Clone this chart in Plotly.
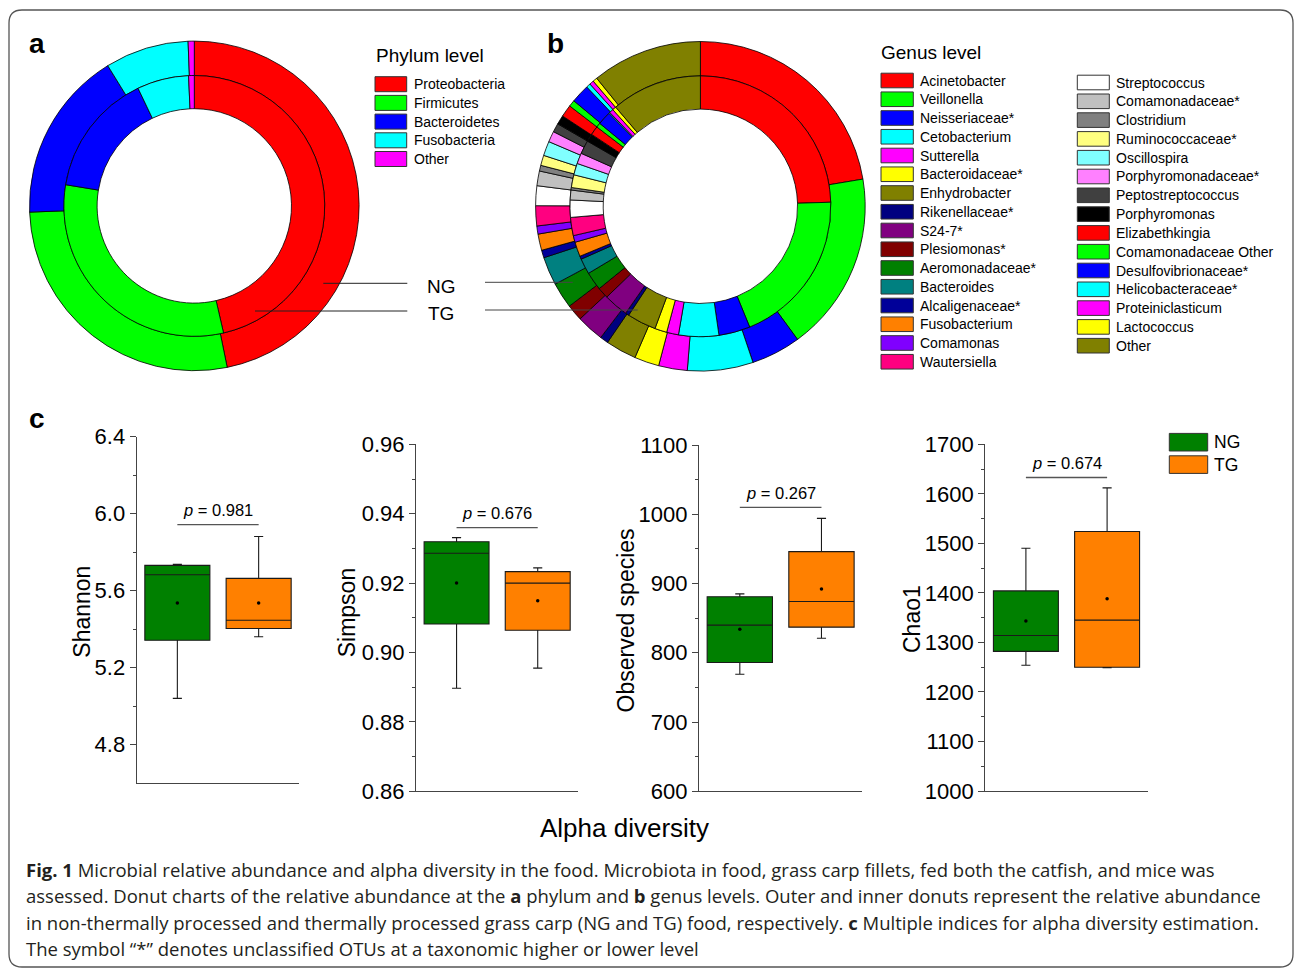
import plotly.graph_objects as go

W, H = 1296, 973

# ---------------- data ----------------
phylum_labels = ["Proteobacteria", "Firmicutes", "Bacteroidetes", "Fusobacteria", "Other"]
phylum_colors = ["#FF0000", "#00FF00", "#0000FF", "#00FFFF", "#FF00FF"]
phylum_ng = [46.8, 27.6, 16.8, 8.2, 0.6]
phylum_tg = [46.4, 31.2, 15.3, 6.4, 0.7]

genus_labels = ["Acinetobacter", "Veillonella", "Neisseriaceae*", "Cetobacterium", "Sutterella",
                "Bacteroidaceae*", "Enhydrobacter", "Rikenellaceae*", "S24-7*", "Plesiomonas*",
                "Aeromonadaceae*", "Bacteroides", "Alcaligenaceae*", "Fusobacterium", "Comamonas",
                "Wautersiella", "Streptococcus", "Comamonadaceae*", "Clostridium", "Ruminococcaceae*",
                "Oscillospira", "Porphyromonadaceae*", "Peptostreptococcus", "Porphyromonas",
                "Elizabethkingia", "Comamonadaceae Other", "Desulfovibrionaceae*", "Helicobacteraceae*",
                "Proteiniclasticum", "Lactococcus", "Other"]
genus_colors = ["#FF0000", "#00FF00", "#0000FF", "#00FFFF", "#FF00FF", "#FFFF00", "#808000", "#000080",
                "#800080", "#800000", "#008000", "#008080", "#000099", "#FF8000", "#8000FF", "#FF0080",
                "#FFFFFF", "#C0C0C0", "#808080", "#FFFF80", "#80FFFF", "#FF80FF", "#404040", "#000000",
                "#FF0000", "#00FF00", "#0000FF", "#00FFFF", "#FF00FF", "#FFFF00", "#808000"]
genus_ng = [22.36, 17.61, 4.86, 6.44, 2.81, 2.42, 3.03, 0.81, 2.69, 1.61, 2.53, 2.78, 0.75, 1.60, 0.79,
            1.97, 1.94, 1.44, 0.56, 1.00, 1.42, 1.06, 0.86, 0.89, 1.19, 0.64, 1.83, 0.42, 0.42, 0.44, 10.83]
genus_tg = [24.50, 19.33, 3.89, 4.97, 1.47, 1.50, 3.61, 0.44, 3.03, 1.39, 2.28, 1.94, 0.39, 1.81, 0.83,
            2.25, 2.14, 1.22, 0.31, 1.58, 1.44, 1.33, 1.67, 0.97, 1.11, 0.56, 1.67, 0.14, 0.50, 0.47, 11.25]

groups = ["NG", "TG"]
group_colors = ["#008000", "#FF8000"]

shannon = {"lower": [5.041, 5.361], "q1": [5.343, 5.404], "median": [5.683, 5.447],
           "q3": [5.732, 5.664], "upper": [5.737, 5.882], "mean": [5.537, 5.537]}
simpson = {"lower": [0.8897, 0.8955], "q1": [0.9082, 0.9064], "median": [0.9286, 0.9200],
           "q3": [0.9319, 0.9233], "upper": [0.9331, 0.9244], "mean": [0.9200, 0.9149]}
observed = {"lower": [769, 821], "q1": [786, 837], "median": [840, 874],
            "q3": [881, 946], "upper": [885, 994], "mean": [834, 892]}
chao1 = {"lower": [1254, 1249], "q1": [1282, 1250], "median": [1314, 1345],
         "q3": [1404, 1524], "upper": [1490, 1612], "mean": [1343, 1388]}

index_names = ["Shannon", "Simpson", "Observed species", "Chao1"]
p_values = ["0.981", "0.676", "0.267", "0.674"]
p_heights = [5.943, 0.936, 1010, 1633]

shannon_ticks = [4.8, 5.2, 5.6, 6.0, 6.4]
simpson_ticks = [0.86, 0.88, 0.90, 0.92, 0.94, 0.96]
observed_ticks = [600, 700, 800, 900, 1000, 1100]
chao1_ticks = [1000, 1100, 1200, 1300, 1400, 1500, 1600, 1700]
shannon_minor = [5.0, 5.4, 5.8, 6.2]
simpson_minor = [0.87, 0.89, 0.91, 0.93, 0.95]
observed_minor = [650, 750, 850, 950, 1050]
chao1_minor = [1050, 1150, 1250, 1350, 1450, 1550, 1650]

caption_lines = [
    "<b>Fig. 1</b> Microbial relative abundance and alpha diversity in the food. Microbiota in food, grass carp fillets, fed both the catfish, and mice was",
    "assessed. Donut charts of the relative abundance at the <b>a</b> phylum and <b>b</b> genus levels. Outer and inner donuts represent the relative abundance",
    "in non-thermally processed and thermally processed grass carp (NG and TG) food, respectively. <b>c</b> Multiple indices for alpha diversity estimation.",
    "The symbol \u201c*\u201d denotes unclassified OTUs at a taxonomic higher or lower level",
]

# ---------------- helpers ----------------
FONT = "Liberation Sans, Arial, sans-serif"


def PX(x):
    return x / W


def PY(y):
    return 1 - y / H


fig = go.Figure()
shapes = []
annotations = []


def ring(values, labels, colors, cx, cy, r_out, r_in):
    return go.Pie(values=values, labels=labels, sort=False, direction="clockwise", rotation=0,
                  hole=r_in / r_out, textinfo="none", showlegend=False,
                  marker=dict(colors=colors, line=dict(color="black", width=0.8)),
                  domain=dict(x=[PX(cx - r_out), PX(cx + r_out)], y=[PY(cy + r_out), PY(cy - r_out)]))


R_OUT, R_MID, R_IN = 164.8, 130.4, 97.2
fig.add_trace(ring(phylum_ng, phylum_labels, phylum_colors, 194.3, 205.9, R_OUT, R_MID))
fig.add_trace(ring(phylum_tg, phylum_labels, phylum_colors, 194.3, 205.9, R_MID, R_IN))
fig.add_trace(ring(genus_ng, genus_labels, genus_colors, 700.4, 206.3, R_OUT, R_MID))
fig.add_trace(ring(genus_tg, genus_labels, genus_colors, 700.4, 206.3, R_MID, R_IN))


def text(x, y, s, size, anchor="left", color="black", angle=0, family=FONT):
    annotations.append(dict(x=PX(x), y=PY(y), xref="paper", yref="paper", text=s, showarrow=False,
                            xanchor=anchor, yanchor="middle", textangle=angle,
                            font=dict(family=family, size=size, color=color)))


def rect(x0, y0, x1, y1, fill, line="#333333"):
    shapes.append(dict(type="rect", xref="paper", yref="paper", x0=PX(x0), x1=PX(x1),
                       y0=PY(y1), y1=PY(y0), fillcolor=fill, line=dict(color=line, width=1)))


def hline(x0, x1, y, color="#222222"):
    shapes.append(dict(type="line", xref="paper", yref="paper", x0=PX(x0), x1=PX(x1),
                       y0=PY(y), y1=PY(y), line=dict(color=color, width=1)))


# panel letters
text(27, 44, "<b>a</b>", 28)
text(545, 44, "<b>b</b>", 28)
text(27, 418, "<b>c</b>", 28)

# NG / TG pointers
text(441, 286, "NG", 19, anchor="center")
text(441, 314, "TG", 19, anchor="center")
hline(323.3, 407.3, 283.3)
hline(255, 407.3, 311)
hline(485, 572.7, 282.3, "#444444")
hline(485, 637.7, 310, "#444444")

# phylum legend
text(374, 56, "Phylum level", 19)
for i, (lab, col) in enumerate(zip(phylum_labels, phylum_colors)):
    cy = 84.2 + i * 18.7
    rect(375, cy - 7.5, 406.7, cy + 7.5, col)
    text(411.5, cy, lab, 14)

# genus legend (two columns)
text(879, 52.3, "Genus level", 19)
for i, (lab, col) in enumerate(zip(genus_labels, genus_colors)):
    if i < 16:
        cy = 80.5 + i * 18.75
        x0, x1, tx = 881, 913.3, 918
    else:
        cy = 82.5 + (i - 16) * 18.8
        x0, x1, tx = 1077.3, 1109.3, 1114
    rect(x0, cy - 7.3, x1, cy + 7.3, col)
    text(tx, cy, lab, 14)

# ---------------- box plots ----------------
stats_list = [shannon, simpson, observed, chao1]
ticks_list = [shannon_ticks, simpson_ticks, observed_ticks, chao1_ticks]
minor_list = [shannon_minor, simpson_minor, observed_minor, chao1_minor]
fmt_list = ["{:.1f}", "{:.2f}", "{:.0f}", "{:.0f}"]
geom = [  # x0, x1, y_top, y_bottom (px), y range
    (136.7, 299.3, 436.7, 783.3, [4.6, 6.4]),
    (416.0, 578.3, 444.3, 791.3, [0.86, 0.96]),
    (699.0, 862.3, 445.0, 791.3, [600, 1100]),
    (985.3, 1147.7, 444.3, 791.0, [1000, 1700]),
]
title_pos = [(82, 611.7), (347, 613.3), (625.5, 621), (912, 619)]
AXC = "#444444"

layout_axes = {}
for k in range(4):
    n = k + 1
    xa, ya = ("x" if n == 1 else f"x{n}"), ("y" if n == 1 else f"y{n}")
    x0, x1, yt, yb, yr = geom[k]
    st = stats_list[k]
    for g in range(2):
        fig.add_trace(go.Box(x=[g], q1=[st["q1"][g]], median=[st["median"][g]], q3=[st["q3"][g]],
                             lowerfence=[st["lower"][g]], upperfence=[st["upper"][g]],
                             width=0.8, whiskerwidth=0.14, fillcolor=group_colors[g],
                             line=dict(color="#1a1a1a", width=1.1), boxpoints=False,
                             name=groups[g], showlegend=False, xaxis=xa, yaxis=ya))
    fig.add_trace(go.Scatter(x=[0, 1], y=st["mean"], mode="markers",
                             marker=dict(color="black", size=3.5), showlegend=False,
                             xaxis=xa, yaxis=ya, hoverinfo="y"))
    fig.add_trace(go.Scatter(x=[0, 1], y=[p_heights[k], p_heights[k]], mode="lines",
                             line=dict(color="#555555", width=1.3), showlegend=False,
                             xaxis=xa, yaxis=ya, hoverinfo="skip"))
    annotations.append(dict(x=0.5, y=p_heights[k], xref=xa, yref=ya, showarrow=False,
                            text=f"<i>p</i> = {p_values[k]}", yanchor="bottom", yshift=3.5,
                            font=dict(family=FONT, size=16.5, color="black")))
    layout_axes["xaxis" if n == 1 else f"xaxis{n}"] = dict(
        domain=[PX(x0), PX(x1)], anchor=ya, range=[-0.5, 1.5], showline=True, linecolor=AXC,
        linewidth=1.2, ticks="", showticklabels=False, showgrid=False, zeroline=False,
        fixedrange=True, automargin=False)
    layout_axes["yaxis" if n == 1 else f"yaxis{n}"] = dict(
        domain=[PY(yb), PY(yt)], anchor=xa, range=yr, showline=True, linecolor=AXC, linewidth=1.2,
        tickmode="array", tickvals=ticks_list[k], ticktext=[fmt_list[k].format(v) for v in ticks_list[k]],
        ticks="outside", ticklen=6, tickwidth=1.2, tickcolor=AXC,
        minor=dict(tickmode="array", tickvals=minor_list[k], ticks="outside", ticklen=3,
                   tickcolor=AXC, tickwidth=1.2, showgrid=False),
        tickfont=dict(family=FONT, size=22, color="black"),
        showgrid=False, zeroline=False, fixedrange=True, automargin=False)
    tx, ty = title_pos[k]
    text(tx, ty, index_names[k], 23, anchor="center", angle=-90)

text(624, 828, "Alpha diversity", 26, anchor="center")

# NG / TG legend for box plots
for g in range(2):
    cy = 442.2 + g * 22.4
    rect(1169.3, cy - 8.8, 1207.7, cy + 8.8, group_colors[g], line="#333333")
    text(1212, cy, groups[g], 17.5)

# caption
for i, line in enumerate(caption_lines):
    text(24, 869 + i * 26.5, line, 18.5, color="#231f20", family="Open Sans, sans-serif")

# rounded outer frame
fx0, fy0, fx1, fy1, rr = 9, 10, 1293, 967, 13
pts = (f"M {PX(fx0 + rr)},{PY(fy0)} L {PX(fx1 - rr)},{PY(fy0)} Q {PX(fx1)},{PY(fy0)} {PX(fx1)},{PY(fy0 + rr)} "
       f"L {PX(fx1)},{PY(fy1 - rr)} Q {PX(fx1)},{PY(fy1)} {PX(fx1 - rr)},{PY(fy1)} "
       f"L {PX(fx0 + rr)},{PY(fy1)} Q {PX(fx0)},{PY(fy1)} {PX(fx0)},{PY(fy1 - rr)} "
       f"L {PX(fx0)},{PY(fy0 + rr)} Q {PX(fx0)},{PY(fy0)} {PX(fx0 + rr)},{PY(fy0)} Z")
shapes.append(dict(type="path", xref="paper", yref="paper", path=pts,
                   line=dict(color="#555555", width=1.3), layer="below"))

fig.update_layout(width=W, height=H, margin=dict(l=0, r=0, t=0, b=0, pad=0, autoexpand=False),
                  autosize=False, paper_bgcolor="white", plot_bgcolor="white", showlegend=False,
                  shapes=shapes, annotations=annotations, font=dict(family=FONT),
                  **layout_axes)

fig.write_html("out.html", config={"displayModeBar": False},
               post_script="document.body.style.margin='0';")
